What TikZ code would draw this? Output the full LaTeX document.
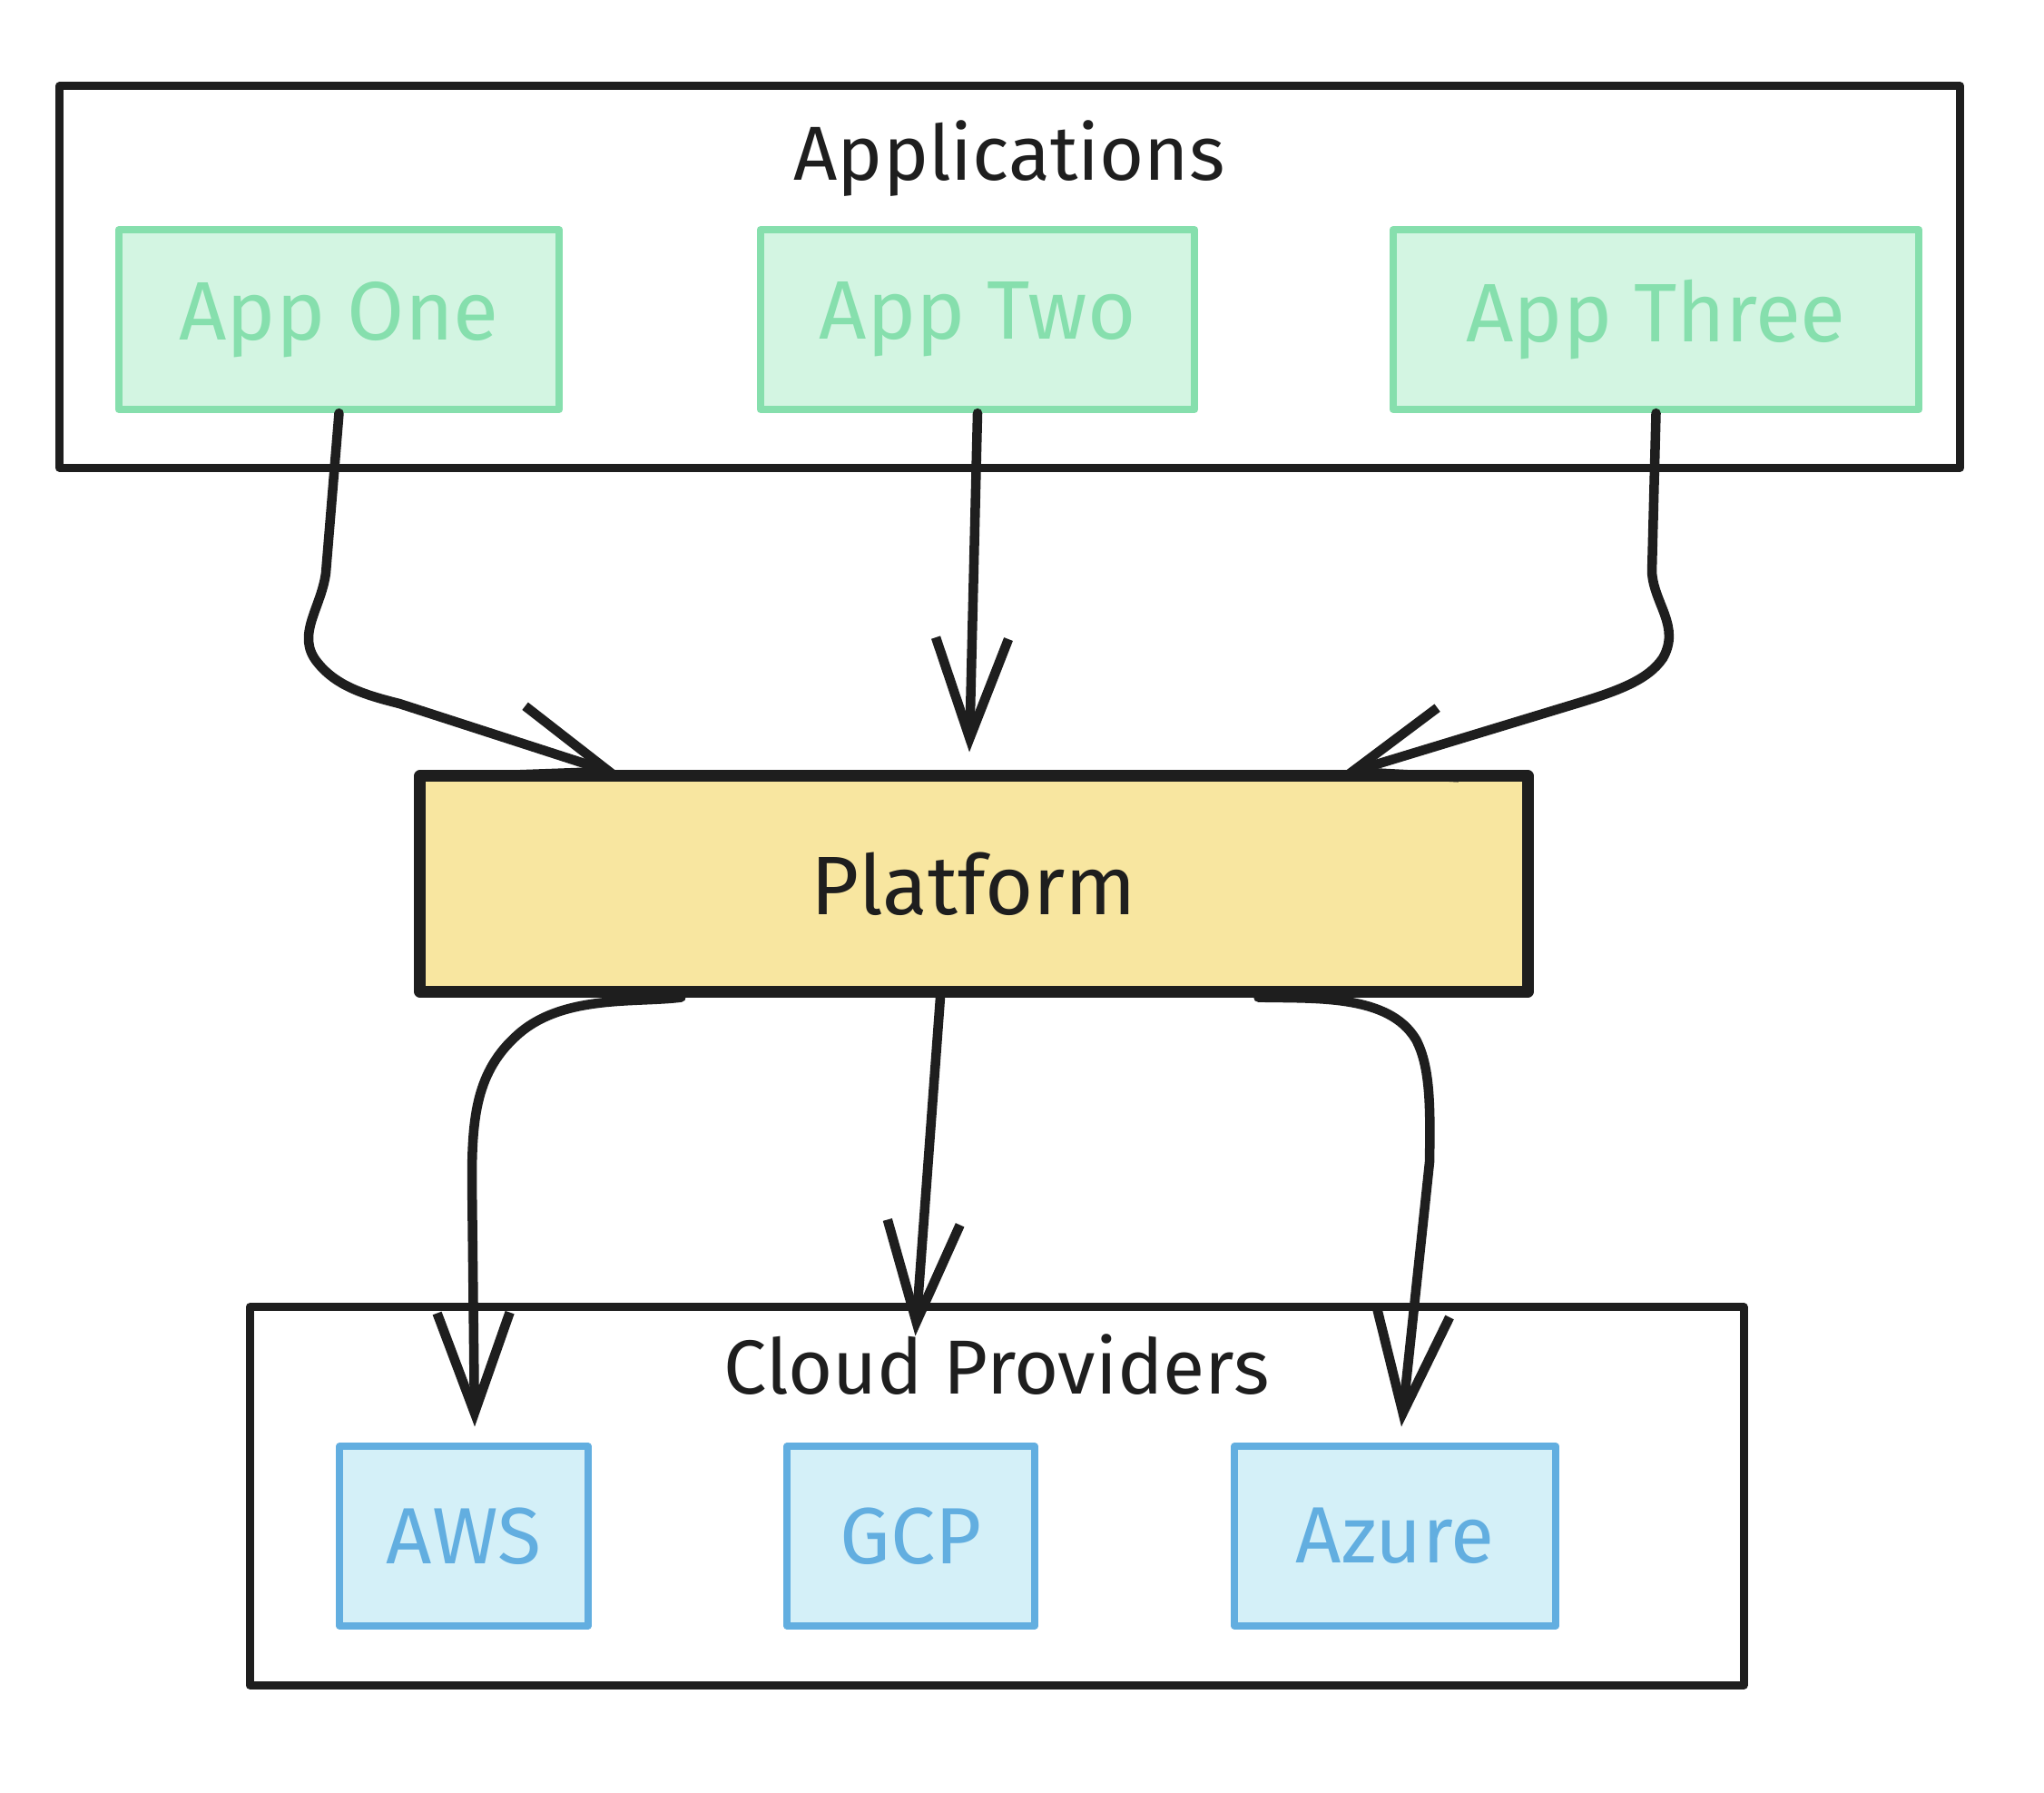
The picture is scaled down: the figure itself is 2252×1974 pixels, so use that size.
\documentclass[tikz,border=0pt]{standalone}
\usepackage{fontspec}
\setmainfont{Fira Sans}
\usetikzlibrary{arrows.meta,calc}
\definecolor{ink}{HTML}{1E1E1E}
\definecolor{gstroke}{HTML}{86DFAD}
\definecolor{gfill}{HTML}{D3F5E2}
\definecolor{bstroke}{HTML}{62AEE0}
\definecolor{bfill}{HTML}{D4F0F8}
\definecolor{yfill}{HTML}{F8E6A0}
\begin{document}
\begin{tikzpicture}[x=0.01cm,y=-0.01cm,
  groupbox/.style={draw=ink, line width=0.09cm, fill=white, inner sep=0pt, line join=round},
  appbox/.style={draw=gstroke, fill=gfill, line width=0.08cm, text=gstroke, minimum height=1.98cm, font=\fontsize{26}{30}\selectfont, line join=round},
  cloudbox/.style={draw=bstroke, fill=bfill, line width=0.08cm, text=bstroke, minimum height=1.97cm, font=\fontsize{25}{30}\selectfont, line join=round},
  platbox/.style={draw=ink, fill=yfill, line width=0.13cm, text=ink, minimum width=12.2cm, minimum height=2.37cm, font=\fontsize{26}{30}\selectfont, line join=round},
  grouptitle/.style={text=ink, anchor=base, inner sep=0pt, font=\fontsize{24}{28}\selectfont},
  conn/.style={draw=ink, line width=0.105cm, line cap=round, line join=round, -{Straight Barb[length=1.1cm,width=0.8cm]}}
]
\useasboundingbox (0,0) rectangle (2252,1974);

% group frames
\node[groupbox, minimum width=20.93cm, minimum height=4.20cm] (apps) at (1112.5,305) {};
\node[groupbox, minimum width=16.45cm, minimum height=4.16cm] (clouds) at (1098,1648) {};
\node[grouptitle] (appstitle) at (1112,198) {Applications};
\node[grouptitle] (cloudtitle) at (1098,1535) {Cloud Providers};

% application boxes
\node[appbox, minimum width=4.85cm] (a1) at (373.5,352) {App One};
\node[appbox, minimum width=4.78cm] (a2) at (1077,352) {App Two};
\node[appbox, minimum width=5.79cm] (a3) at (1824.5,352) {App Three};

% platform
\node[platbox] (plat) at (1073,973.5) {Platform};

% cloud boxes
\node[cloudbox, minimum width=2.74cm] (aws) at (511,1692) {AWS};
\node[cloudbox, minimum width=2.73cm] (gcp) at (1003.5,1692) {GCP};
\node[cloudbox, minimum width=3.54cm] (azure) at (1537,1692) {Azure};

% connector end points
\coordinate (p1) at ($(plat.north west)!0.186!(plat.north east)+(0,6)$);
\coordinate (p2) at ($(plat.north)+(-5,-20)$);
\coordinate (p3) at ($(plat.north west)!0.826!(plat.north east)+(0,6)$);
\coordinate (q1) at ($(plat.south west)!0.2385!(plat.south east)$);
\coordinate (q2) at ($(plat.south west)!0.47!(plat.south east)$);
\coordinate (q3) at ($(plat.south west)!0.754!(plat.south east)$);
\coordinate (t1) at ($(aws.north)+(12,-18)$);
\coordinate (t2) at ($(gcp.north)+(5,-118)$);
\coordinate (t3) at ($(azure.north)+(7,-18)$);

% connectors: applications -> platform
\draw[conn] (a1.south) -- (359,631) .. controls (354,670) and (325,700) .. (350,730)
  .. controls (370,755) and (400,765) .. (440,775) -- (p1);
\draw[conn] (a2.south) -- (p2);
\draw[conn] (a3.south) -- (1820,630) .. controls (1822,665) and (1852,690) .. (1832,725)
  .. controls (1815,750) and (1780,762) .. (1730,777) -- (p3);

% connectors: platform -> clouds
\draw[conn] (q1) .. controls (700,1105) and (620,1095) .. (570,1140)
  .. controls (525,1180) and (520,1230) .. (520,1300) -- (t1);
\draw[conn] (q2) -- (t2);
\draw[conn] (q3) .. controls (1450,1100) and (1530,1095) .. (1560,1145)
  .. controls (1576,1175) and (1576,1220) .. (1575,1280) -- (t3);
\end{tikzpicture}
\end{document}
